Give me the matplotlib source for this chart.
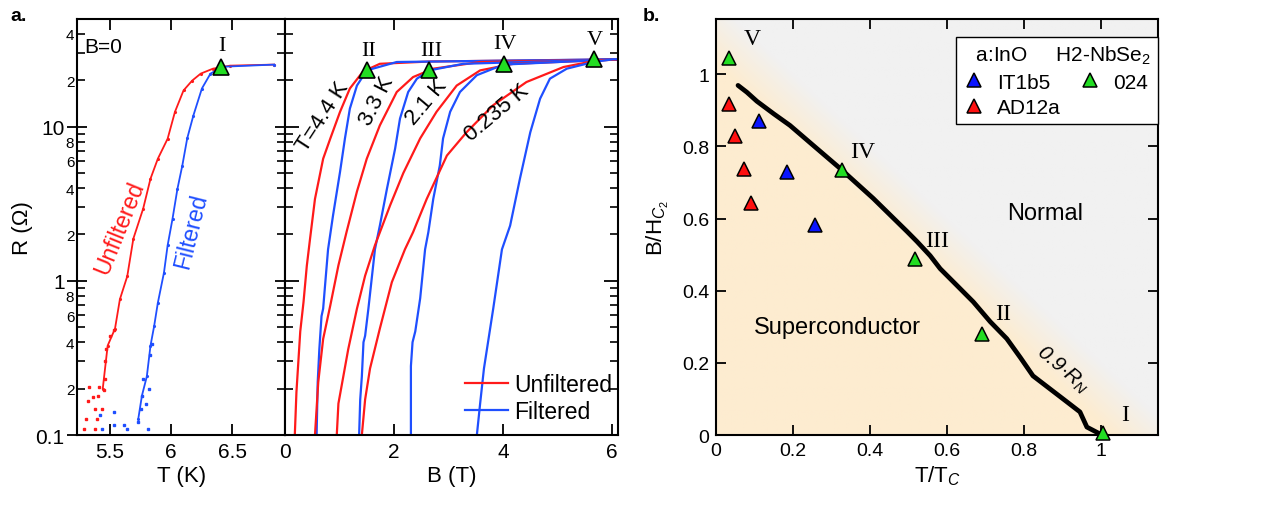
import numpy as np
import matplotlib
matplotlib.use("Agg")
import matplotlib.pyplot as plt
from matplotlib.ticker import FixedLocator, FixedFormatter, NullFormatter
from matplotlib.lines import Line2D

plt.rcParams['font.family'] = ['Liberation Sans', 'DejaVu Sans']
plt.rcParams['mathtext.fontset'] = 'custom'
plt.rcParams['mathtext.rm'] = 'Liberation Sans'
plt.rcParams['mathtext.it'] = 'Liberation Sans:italic'

RED = '#ff1a1a'
BLUE = '#1f4fff'
GREEN = '#22dd22'

# ---- panel a, left: R(T) at B=0
T_unf = [5.44, 5.48, 5.54, 5.58, 5.64, 5.69, 5.77, 5.83, 5.89, 5.97, 6.03, 6.10, 6.17, 6.24, 6.34, 6.48, 6.84]
R_unf = [0.20, 0.38, 0.49, 0.76, 1.07, 1.88, 2.94, 4.6, 6.2, 8.36, 12.5, 17.2, 19.9, 22.1, 23.8, 24.9, 25.3]
T_fil = [5.73, 5.76, 5.80, 5.83, 5.86, 5.89, 5.94, 5.97, 6.01, 6.05, 6.09, 6.13, 6.18, 6.25, 6.32, 6.42, 6.84]
R_fil = [0.127, 0.18, 0.24, 0.38, 0.51, 0.72, 1.13, 1.7, 2.53, 3.95, 5.6, 8.4, 11.8, 17.7, 22.1, 24.5, 25.3]
# noisy points near the bottom
T_unf_pts = [5.29, 5.30, 5.32, 5.33, 5.36, 5.38, 5.39, 5.40, 5.41, 5.38, 5.43, 5.45, 5.46, 5.46, 5.47, 5.50, 5.53]
R_unf_pts = [0.109, 0.127, 0.167, 0.204, 0.177, 0.148, 0.127, 0.18, 0.204, 0.11, 0.148, 0.195, 0.23, 0.30, 0.36, 0.44, 0.48]
T_fil_pts = [5.42, 5.43, 5.53, 5.53, 5.61, 5.64, 5.73, 5.75, 5.76, 5.77, 5.79, 5.81, 5.82, 5.83, 5.84]
R_fil_pts = [0.134, 0.11, 0.14, 0.116, 0.116, 0.11, 0.122, 0.148, 0.18, 0.23, 0.16, 0.11, 0.2, 0.33, 0.39]

# ---- panel a, middle: R(B) at four temperatures
temps = ['4.4', '3.3', '2.1', '0.235']
B_unf = {
    '4.4': [0.18, 0.21, 0.28, 0.34, 0.40, 0.46, 0.55, 0.70, 0.83, 1.01, 1.19, 1.43, 1.74, 2.66, 6.1],
    '3.3': [0.55, 0.61, 0.70, 0.83, 0.98, 1.13, 1.32, 1.50, 1.74, 2.05, 2.35, 2.72, 3.58, 6.1],
    '2.1': [0.95, 0.98, 1.07, 1.16, 1.32, 1.47, 1.65, 1.93, 2.17, 2.48, 2.78, 3.15, 3.58, 4.19, 6.1],
    '0.235': [1.41, 1.47, 1.56, 1.74, 1.96, 2.20, 2.35, 2.60, 2.97, 3.33, 3.82, 4.43, 5.11, 5.72, 6.1],
}
R_unf_B = {
    '4.4': [0.1, 0.19, 0.47, 0.73, 1.25, 1.88, 3.4, 6.2, 8.36, 12.5, 17.7, 22.8, 25.6, 26.5, 27.3],
    '3.3': [0.1, 0.22, 0.42, 0.69, 1.26, 2.08, 3.8, 6.2, 10.2, 16.8, 21.0, 23.8, 26.3, 27.3],
    '2.1': [0.1, 0.16, 0.24, 0.36, 0.66, 1.08, 1.7, 3.1, 5.0, 8.4, 12.5, 18.5, 23.2, 25.6, 27.3],
    '0.235': [0.1, 0.17, 0.27, 0.49, 0.98, 1.6, 2.07, 3.4, 6.5, 9.2, 13.8, 19.5, 24.4, 26.9, 27.3],
}
B_fil = {
    '4.4': [0.58, 0.60, 0.63, 0.67, 0.70, 0.73, 0.79, 0.88, 1.01, 1.10, 1.19, 1.32, 1.50, 2.05, 6.1],
    '3.3': [1.36, 1.38, 1.41, 1.44, 1.47, 1.53, 1.65, 1.74, 1.87, 2.02, 2.11, 2.26, 2.42, 2.65, 3.27, 6.1],
    '2.1': [2.31, 2.31, 2.34, 2.39, 2.48, 2.57, 2.63, 2.72, 2.84, 2.90, 3.03, 3.21, 3.52, 4.01, 6.1],
    '0.235': [3.52, 3.58, 3.65, 3.82, 3.98, 4.13, 4.31, 4.50, 4.68, 4.86, 5.17, 5.66, 6.02, 6.1],
}
R_fil_B = {
    '4.4': [0.1, 0.22, 0.36, 0.59, 0.66, 0.89, 1.6, 2.64, 5.1, 8.4, 13.1, 18.5, 23.2, 26.3, 27.4],
    '3.3': [0.1, 0.17, 0.24, 0.40, 0.44, 0.66, 1.6, 2.28, 3.95, 7.2, 11.3, 16.8, 20.5, 23.2, 25.6, 27.4],
    '2.1': [0.1, 0.28, 0.40, 0.47, 0.77, 1.6, 2.07, 3.4, 5.6, 8.4, 12.5, 16.8, 21.6, 25.3, 27.4],
    '0.235': [0.1, 0.16, 0.27, 0.66, 1.6, 2.28, 4.6, 9.2, 15.2, 20.5, 23.8, 26.3, 27.4, 27.4],
}

# transition points I..V
numerals = ['I', 'II', 'III', 'IV', 'V']
T_I, R_I = 6.41, 24.4
B_pts = [1.50, 2.65, 4.01, 5.66]
R_pts = [23.2, 23.2, 25.6, 27.7]

# ---- panel b: phase diagram
curve_t = [0.057, 0.08, 0.106, 0.15, 0.192, 0.252, 0.322, 0.408, 0.496, 0.522, 0.556, 0.582,
           0.626, 0.668, 0.712, 0.755, 0.79, 0.823, 0.867, 0.911, 0.945, 0.963, 0.997]
curve_b = [0.969, 0.95, 0.925, 0.89, 0.858, 0.803, 0.739, 0.656, 0.564, 0.536, 0.497, 0.461,
           0.414, 0.369, 0.314, 0.267, 0.215, 0.164, 0.128, 0.092, 0.064, 0.022, 0.003]
nbse_t = [0.034, 0.327, 0.517, 0.691, 1.005]
nbse_b = [1.044, 0.734, 0.489, 0.281, 0.006]
ad12a_t = [0.034, 0.049, 0.073, 0.091]
ad12a_b = [0.917, 0.828, 0.736, 0.644]
it1b5_t = [0.112, 0.184, 0.257]
it1b5_b = [0.870, 0.728, 0.581]
num_pos_t = [1.062, 0.745, 0.575, 0.38, 0.093]
num_pos_b = [0.058, 0.336, 0.539, 0.786, 1.10]

fig = plt.figure(figsize=(12.78, 5.06), dpi=100)
ax1 = fig.add_axes([0.0603, 0.1383, 0.1628, 0.8222])
ax2 = fig.add_axes([0.2230, 0.1383, 0.2606, 0.8222])
ax3 = fig.add_axes([0.5603, 0.1383, 0.3459, 0.8222])

ylo, yhi = 0.1, 50

# left
ax1.plot(T_unf, R_unf, color=RED, lw=1.3, marker='.', ms=2.5)
ax1.plot(T_fil, R_fil, color=BLUE, lw=1.3, marker='.', ms=2.5)
ax1.plot(T_unf_pts, R_unf_pts, ls='none', marker='s', ms=1.8, color=RED)
ax1.plot(T_fil_pts, R_fil_pts, ls='none', marker='s', ms=1.8, color=BLUE)
ax1.plot([T_I], [R_I], ls='none', marker='^', ms=12, mfc=GREEN, mec='black', mew=1.2)
ax1.text(T_I, 33.7, numerals[0], family='Liberation Serif', fontsize=16, ha='center', va='center')
ax1.text(5.29, 33, 'B=0', fontsize=15, ha='left', va='center')
ax1.text(5.58, 2.24, 'Unfiltered', color=RED, fontsize=16.5, rotation=68, ha='center', va='center')
ax1.text(6.165, 2.11, 'Filtered', color=BLUE, fontsize=16.5, rotation=76, ha='center', va='center')
ax1.set_yscale('log')
ax1.set_xlim(5.23, 6.93)
ax1.set_ylim(ylo, yhi)
ax1.set_xticks([5.5, 6, 6.5])
ax1.set_xticklabels(['5.5', '6', '6.5'])
ax1.set_xlabel('T (K)', fontsize=16, labelpad=3)
ax1.set_ylabel('R (Ω)', fontsize=16, labelpad=2)

major = [0.1, 1, 10]
minor = [0.2, 0.3, 0.4, 0.5, 0.6, 0.7, 0.8, 0.9,
         2, 3, 4, 5, 6, 7, 8, 9, 20, 30, 40]
minor_lab = ['2', '', '4', '', '6', '', '8', '',
             '2', '', '4', '', '6', '', '8', '', '2', '', '4']
for ax in (ax1, ax2):
    ax.yaxis.set_major_locator(FixedLocator(major))
    ax.yaxis.set_minor_locator(FixedLocator(minor))
    ax.tick_params(axis='y', which='major', direction='inout', length=14, width=1.3,
                   left=True, right=True)
    ax.tick_params(axis='y', which='minor', direction='in', length=6, width=1.2,
                   left=True, right=True)
    ax.tick_params(axis='x', which='major', direction='in', length=8, width=1.3,
                   top=True, bottom=True, labelsize=15, pad=5)
    for s in ax.spines.values():
        s.set_linewidth(1.5)
ax1.yaxis.set_major_formatter(FixedFormatter(['0.1', '1', '10']))
ax1.yaxis.set_minor_formatter(FixedFormatter(minor_lab))
ax1.tick_params(axis='y', which='major', labelsize=15, pad=2)
ax1.tick_params(axis='y', which='minor', labelsize=11, pad=2)
ax2.tick_params(axis='y', which='major', direction='in', length=10, right=True)
ax2.tick_params(axis='y', which='both', labelleft=False)

# middle
for t in temps:
    ax2.plot(B_unf[t], R_unf_B[t], color=RED, lw=1.6)
    ax2.plot(B_fil[t], R_fil_B[t], color=BLUE, lw=1.6)
ax2.plot(B_pts, R_pts, ls='none', marker='^', ms=12, mfc=GREEN, mec='black', mew=1.2)
num_lab_R = [31.3, 31.3, 34.6, 37]
for b, r, n in zip(B_pts, num_lab_R, numerals[1:]):
    ax2.text(b + 0.03, r, n, family='Liberation Serif', fontsize=16, ha='center', va='center')
ax2.text(0.70, 11.8, 'T=4.4 K', fontsize=16, rotation=57, ha='center', va='center')
ax2.text(1.68, 14.8, '3.3 K', fontsize=16, rotation=63, ha='center', va='center')
ax2.text(2.60, 14.5, '2.1 K', fontsize=16, rotation=50, ha='center', va='center')
ax2.text(3.88, 12.5, '0.235 K', fontsize=16, rotation=40, ha='center', va='center')
ax2.set_yscale('log')
ax2.yaxis.set_major_locator(FixedLocator(major))
ax2.yaxis.set_minor_locator(FixedLocator(minor))
ax2.yaxis.set_major_formatter(NullFormatter())
ax2.yaxis.set_minor_formatter(NullFormatter())
ax2.set_xlim(0, 6.11)
ax2.set_ylim(ylo, yhi)
ax2.set_xticks([0, 2, 4, 6])
ax2.set_xlabel('B (T)', fontsize=16, labelpad=3)
leg_a = [Line2D([], [], color=RED, lw=1.6), Line2D([], [], color=BLUE, lw=1.6)]
ax2.legend(leg_a, ['Unfiltered', 'Filtered'], loc='lower left', bbox_to_anchor=(0.54, 0.03),
           frameon=False, fontsize=16.5, handlelength=1.9, handletextpad=0.25,
           labelspacing=0.17, borderpad=0, borderaxespad=0)

# right: phase diagram
xmax, ymax = 1.148, 1.153
gx, gy = np.meshgrid(np.linspace(0, xmax, 400), np.linspace(0, ymax, 400))
s = (gx + gy) / 1.12
w = np.clip((s - 0.92) / 0.15, 0, 1)[..., None]
orange = np.array([253, 236, 208]) / 255
gray = np.array([241, 241, 241]) / 255
ax3.imshow(orange * (1 - w) + gray * w, extent=[0, xmax, 0, ymax], origin='lower',
           aspect='auto', zorder=0)
ax3.plot(curve_t, curve_b, color='black', lw=3.4, zorder=2, solid_capstyle='round')
tri = dict(ls='none', marker='^', ms=10.5, mec='black', mew=1.1, zorder=3)
h_it = ax3.plot(it1b5_t, it1b5_b, mfc='#0a14ff', **tri)[0]
h_ad = ax3.plot(ad12a_t, ad12a_b, mfc='#ff1010', **tri)[0]
h_nb = ax3.plot(nbse_t, nbse_b, mfc=GREEN, clip_on=False, **tri)[0]
for t, b, n in zip(num_pos_t, num_pos_b, numerals):
    ax3.text(t, b, n, family='Liberation Serif', fontsize=17, ha='center', va='center')
ax3.text(0.855, 0.614, 'Normal', fontsize=17, ha='center', va='center')
ax3.text(0.314, 0.30, 'Superconductor', fontsize=17, ha='center', va='center')
ax3.text(0.90, 0.183, r'0.9$\cdot$$R_N$', fontsize=15, style='italic', rotation=-40,
         ha='center', va='center')
ax3.set_xlim(0, xmax)
ax3.set_ylim(0, ymax)
ax3.set_xticks([0, 0.2, 0.4, 0.6, 0.8, 1])
ax3.set_xticklabels(['0', '0.2', '0.4', '0.6', '0.8', '1'])
ax3.set_yticks([0, 0.2, 0.4, 0.6, 0.8, 1])
ax3.set_yticklabels(['0', '0.2', '0.4', '0.6', '0.8', '1'])
ax3.tick_params(direction='in', length=7, width=1.3, top=True, right=True, labelsize=14, pad=5)
for sp in ax3.spines.values():
    sp.set_linewidth(1.5)
ax3.set_xlabel('T/T$_C$', fontsize=16, labelpad=3)
ax3.set_ylabel('B/H$_{C_2}$', fontsize=16, labelpad=8)
blank = Line2D([], [], ls='none')
leg = ax3.legend([h_it, h_ad, h_nb, blank], ['IT1b5', 'AD12a', '024', ''],
                 ncol=2, loc='upper right', bbox_to_anchor=(1.0, 0.957), fontsize=15,
                 title='  a:InO     H2-NbSe$_2$', title_fontsize=15, alignment='left',
                 fancybox=False, edgecolor='black', framealpha=1, borderpad=0.35,
                 handlelength=1.0, handletextpad=0.6, columnspacing=0.9, labelspacing=0.3,
                 borderaxespad=0)
leg.get_frame().set_linewidth(1.0)

fig.text(0.008, 0.985, 'a.', fontsize=14, fontweight='bold', va='top')
fig.text(0.503, 0.985, 'b.', fontsize=14, fontweight='bold', va='top')

fig.savefig('out.png', dpi=100)
